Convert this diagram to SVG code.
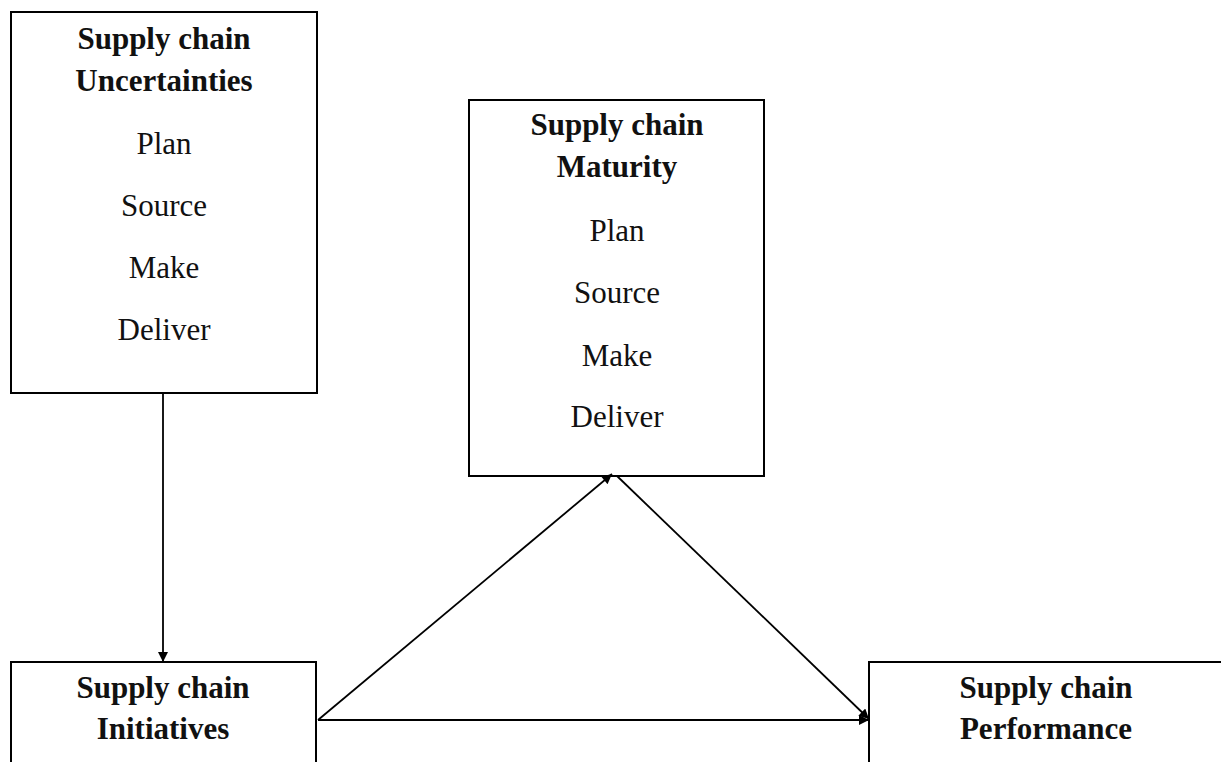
<svg xmlns="http://www.w3.org/2000/svg" width="1221" height="762" viewBox="0 0 1221 762">
<style>
.box{fill:#fff;stroke:#000;stroke-width:2}
.t{font-family:"Liberation Serif","Times New Roman",serif;font-size:31px;fill:#111;text-anchor:middle}
.b{font-weight:bold}
.c{stroke:#000;stroke-width:1.8;fill:none;marker-end:url(#ah)}
</style>
<defs>
<marker id="ah" viewBox="0 0 10 10" refX="10" refY="5" markerWidth="12" markerHeight="10" markerUnits="userSpaceOnUse" orient="auto">
<path d="M0,0 L10,5 L0,10 Z" fill="#000"/>
</marker>
</defs>
<rect width="1221" height="762" fill="#fff"/>
<g id="uncertainties">
<rect class="box" x="11" y="12" width="306" height="381"/>
<text class="t b" x="164" y="49">Supply chain</text>
<text class="t b" x="164" y="91">Uncertainties</text>
<text class="t" x="164" y="154">Plan</text>
<text class="t" x="164" y="216">Source</text>
<text class="t" x="164" y="278">Make</text>
<text class="t" x="164" y="340">Deliver</text>
</g>
<g id="maturity">
<rect class="box" x="469" y="100" width="295" height="376"/>
<text class="t b" x="617" y="135">Supply chain</text>
<text class="t b" x="617" y="177">Maturity</text>
<text class="t" x="617" y="241">Plan</text>
<text class="t" x="617" y="303">Source</text>
<text class="t" x="617" y="366">Make</text>
<text class="t" x="617" y="427">Deliver</text>
</g>
<g id="initiatives">
<rect class="box" x="11" y="662" width="305" height="120"/>
<text class="t b" x="163" y="698">Supply chain</text>
<text class="t b" x="163" y="739">Initiatives</text>
</g>
<g id="performance">
<rect class="box" x="869" y="662" width="370" height="120"/>
<text class="t b" x="1046" y="698">Supply chain</text>
<text class="t b" x="1046" y="739">Performance</text>
</g>
<g id="connectors">
<line class="c" x1="163" y1="393" x2="163" y2="662"/>
<line class="c" x1="318" y1="720" x2="612" y2="474"/>
<line class="c" x1="617" y1="476" x2="869" y2="719"/>
<line class="c" x1="318" y1="720" x2="869" y2="720"/>
</g>
</svg>
